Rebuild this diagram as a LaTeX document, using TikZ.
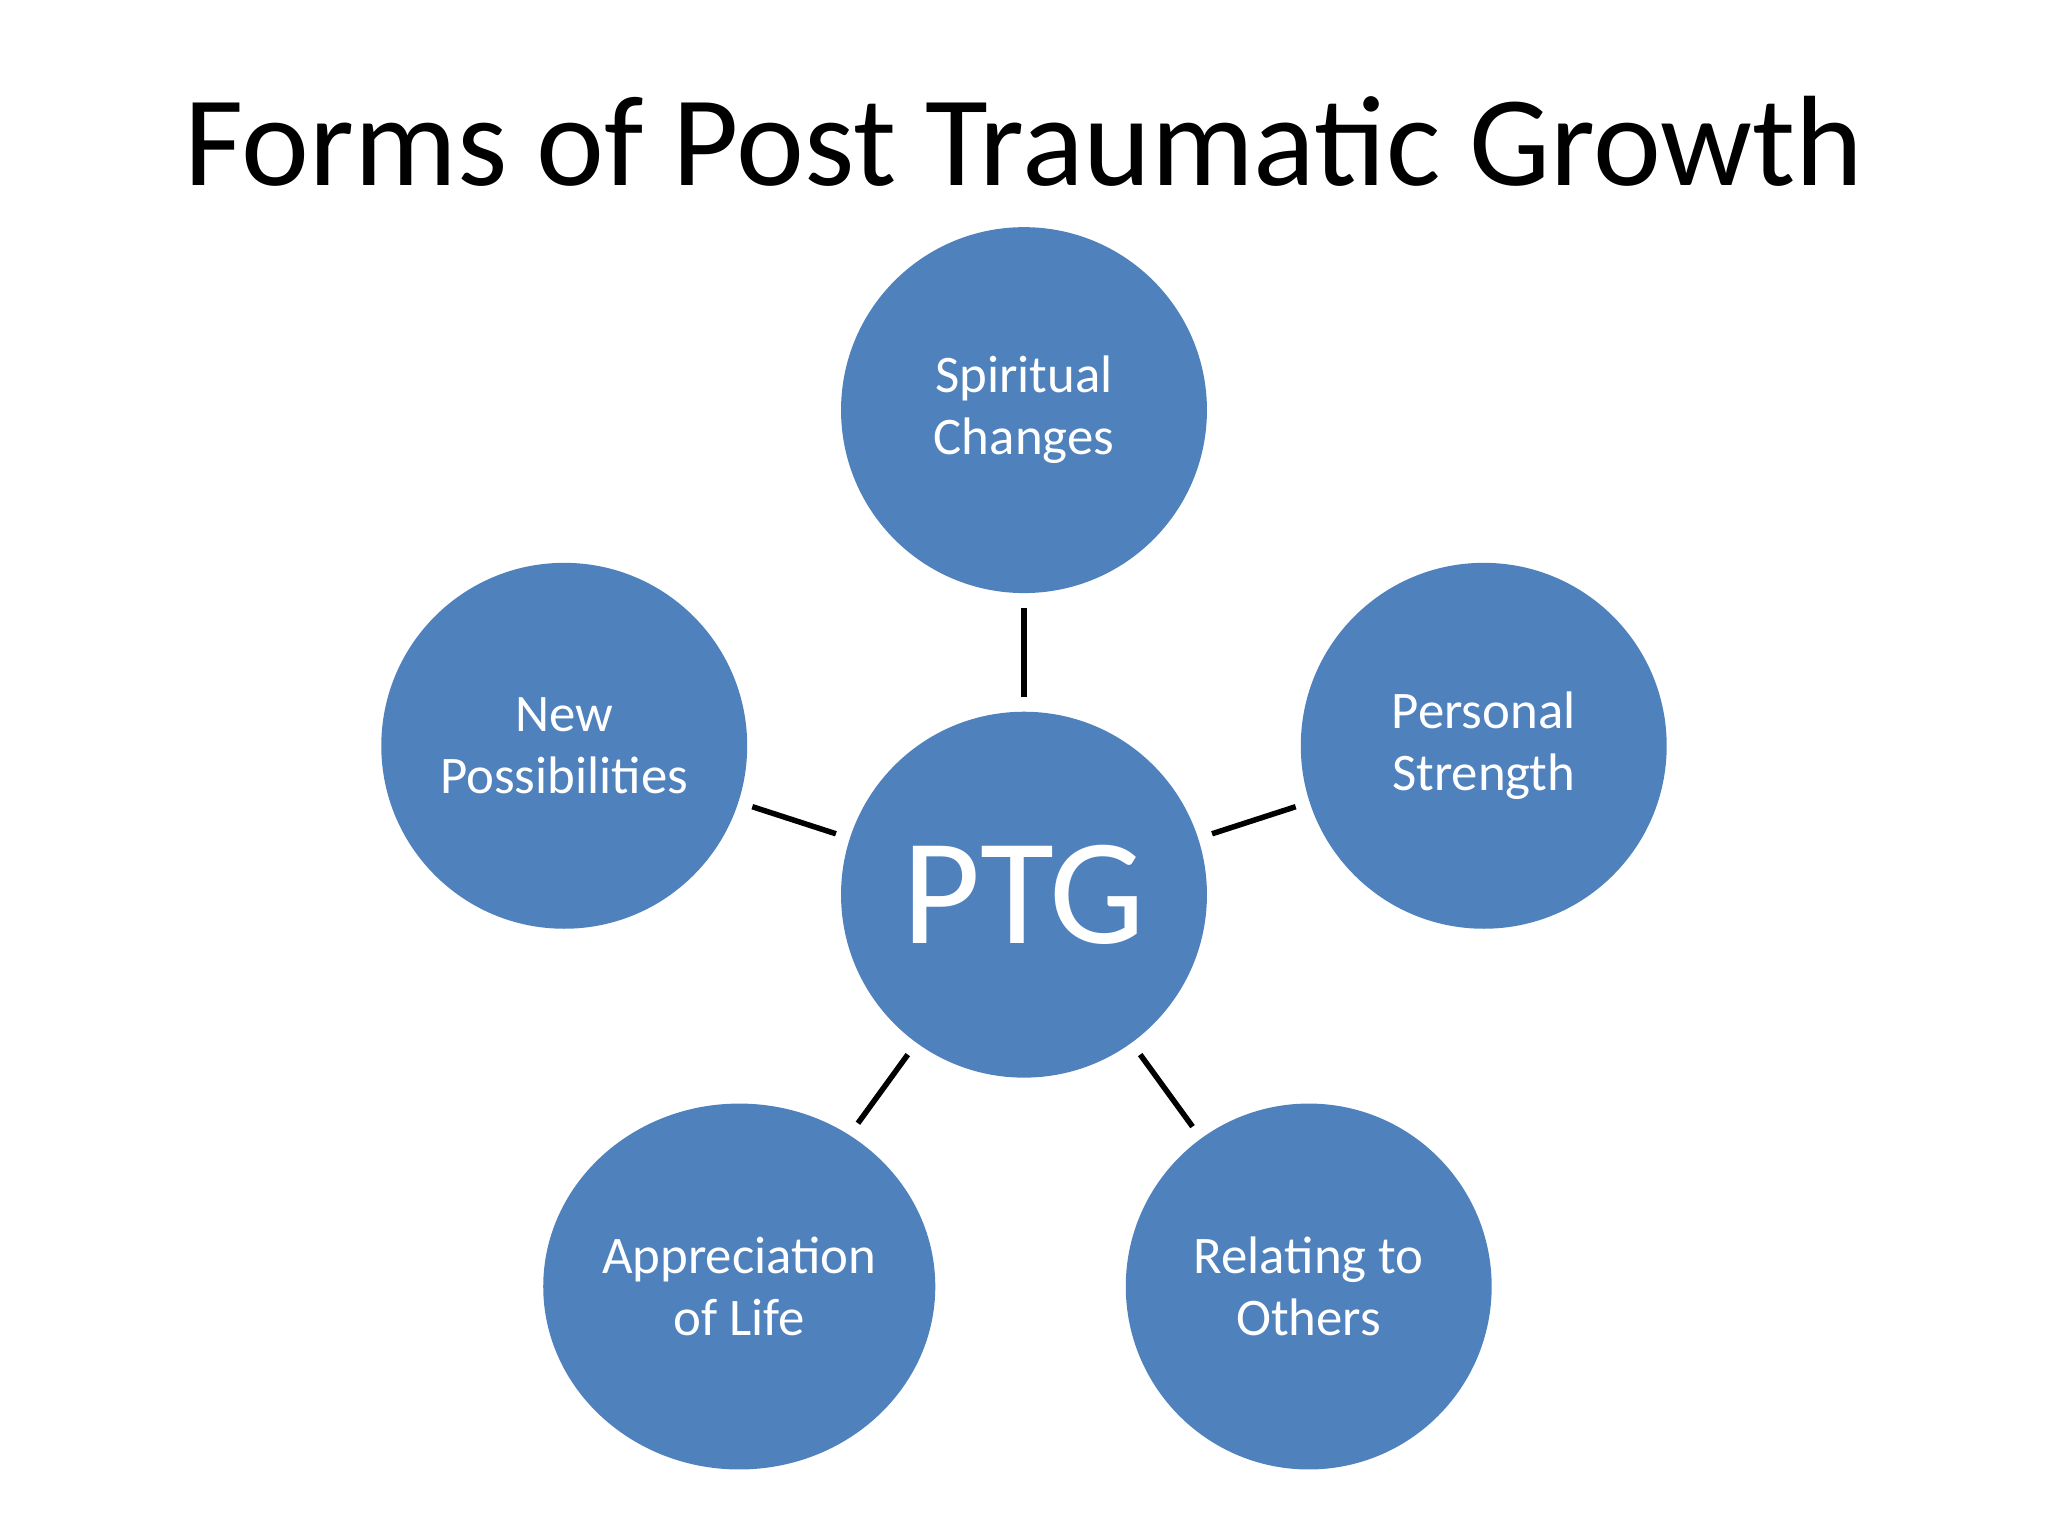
\documentclass[tikz,border=0pt]{standalone}
\usepackage{fontspec}
\setmainfont{Carlito}
\usetikzlibrary{shapes.geometric}
\definecolor{bub}{HTML}{4F81BD}
\begin{document}
\begin{tikzpicture}[x=0.01cm,y=-0.01cm,
  bubble/.style={circle,fill=bub,minimum size=2.8cm,inner sep=0pt,text=white,align=center,font=\fontsize{11.5}{13.5}\selectfont},
  link/.style={line width=1.2pt,shorten >=3pt,shorten <=3pt}]
\useasboundingbox (0,0) rectangle (1568,1176);
\node (title) at (784,108) {\fontsize{28}{32}\selectfont Forms of Post Traumatic Growth};
\node[bubble,font=\fontsize{33}{36}\selectfont] (ptg) at (784,685) {PTG};
\node[bubble] (sp) at (784,314) {Spiritual\\Changes};
\node[bubble] (np) at (432,571) {New\\Possibilities};
\node[bubble] (ps) at (1136,571) {Personal\\Strength};
\node[bubble,ellipse,minimum width=3.0cm,minimum height=2.8cm] (ap) at (566,985) {Appreciation\\of Life};
\node[bubble] (ro) at (1002,985) {Relating to\\Others};
\foreach \n in {sp,np,ps,ap,ro} \draw[link] (ptg) -- (\n);
\end{tikzpicture}
\end{document}
